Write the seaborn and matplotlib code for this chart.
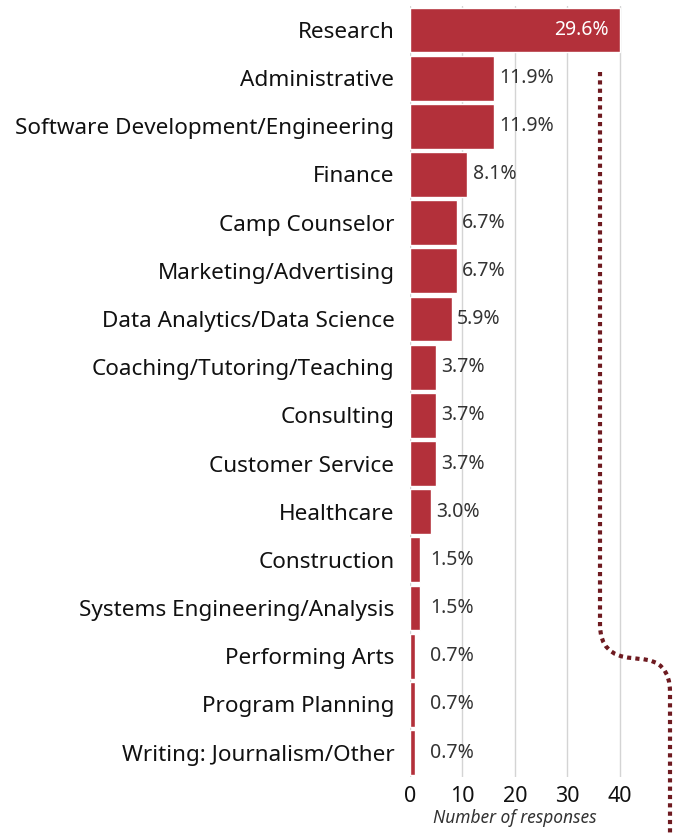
import matplotlib.pyplot as plt
import seaborn as sns
import pandas as pd
from matplotlib.path import Path
from matplotlib.patches import PathPatch

categories = ['Research', 'Administrative', 'Software Development/Engineering', 'Finance',
              'Camp Counselor', 'Marketing/Advertising', 'Data Analytics/Data Science',
              'Coaching/Tutoring/Teaching', 'Consulting', 'Customer Service', 'Healthcare',
              'Construction', 'Systems Engineering/Analysis', 'Performing Arts',
              'Program Planning', 'Writing: Journalism/Other']
counts = [40, 16, 16, 11, 9, 9, 8, 5, 5, 5, 4, 2, 2, 1, 1, 1]
pct_labels = ['29.6%', '11.9%', '11.9%', '8.1%', '6.7%', '6.7%', '5.9%', '3.7%', '3.7%',
              '3.7%', '3.0%', '1.5%', '1.5%', '0.7%', '0.7%', '0.7%']
xticks = [0, 10, 20, 30, 40]

df = pd.DataFrame({'category': categories, 'count': counts})

sns.set_style('white')
plt.rcParams['font.family'] = ['Noto Sans', 'DejaVu Sans']

fig = plt.figure(figsize=(6.75, 8.36), dpi=100)
ax = fig.add_axes([0.607, 0.071, 0.389, 0.922])

bar_color = '#b3303a'
sns.barplot(data=df, x='count', y='category', color=bar_color, width=0.93,
            saturation=1, ax=ax, zorder=3)

ax.set_xlim(0, 50)
ax.set_xticks(xticks)
ax.grid(axis='x', color='#d4d4d4', linewidth=1, zorder=0)
ax.grid(axis='y', visible=False)
sns.despine(ax=ax, left=True, bottom=True)
ax.tick_params(axis='both', length=0)
ax.tick_params(axis='y', labelsize=16.2, pad=11, labelcolor='#111111')
ax.tick_params(axis='x', labelsize=15.5, pad=7, labelcolor='#111111')
ax.set_ylabel('')
ax.set_xlabel('Number of responses', fontsize=12.5, style='italic', color='#333333', labelpad=1)
ax.xaxis.label.set_x(0.4)

for i, (v, lab) in enumerate(zip(counts, pct_labels)):
    if v == max(counts):
        ax.annotate(lab, (v, i), xytext=(-8, 0), textcoords='offset points',
                    ha='right', va='center', color='white', fontsize=14, zorder=5)
    else:
        ax.text(max(v + 1.0, 3.9), i, lab, ha='left', va='center',
                color='#333333', fontsize=14, zorder=5)

# decorative dotted connector
W, H = 675, 836
pts = [(600, 72), (600, 625), (600, 656), (632, 658), (640, 659),
       (670, 660), (670, 692), (670, 836)]
codes = [Path.MOVETO, Path.LINETO, Path.CURVE3, Path.CURVE3, Path.LINETO,
         Path.CURVE3, Path.CURVE3, Path.LINETO]
verts = [(x / W, 1 - y / H) for x, y in pts]
patch = PathPatch(Path(verts, codes), transform=fig.transFigure, fill=False,
                  edgecolor='#6e1a20', linewidth=3, linestyle=(0, (1, 1)))
fig.add_artist(patch)

fig.savefig('out.png', dpi=100)
